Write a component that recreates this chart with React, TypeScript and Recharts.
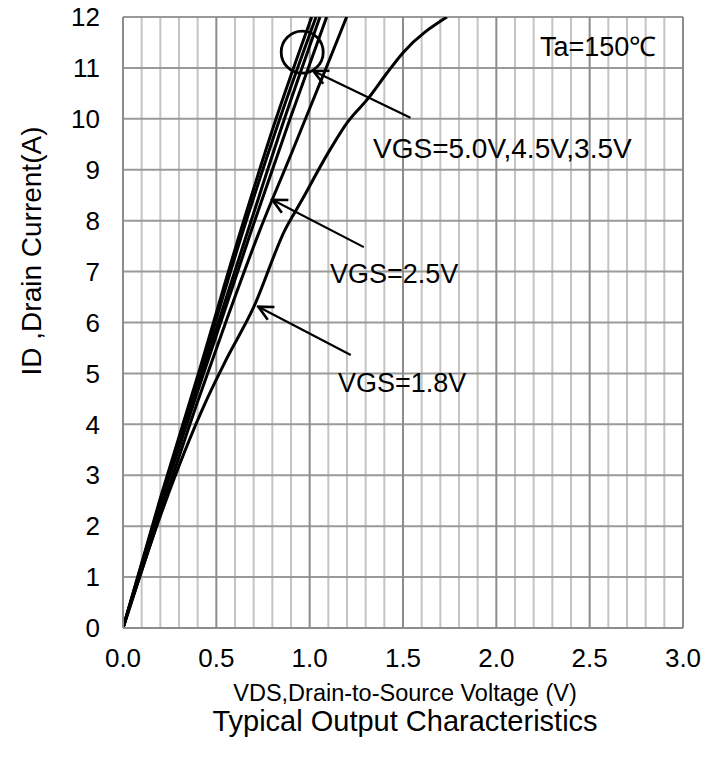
import React from 'react';
import {
  LineChart,
  Line,
  XAxis,
  YAxis,
  CartesianGrid,
  ReferenceLine,
  ReferenceDot,
  Customized,
} from 'recharts';

// Output curves, drain current (A) against drain-source voltage (V)
const vds50 = [0, 0.2, 0.4, 0.63, 0.82, 1.011];
const id50 = [0, 2.55, 4.95, 7.8, 10.0, 12];
const vds45 = [0, 0.2, 0.4, 0.645, 0.84, 1.034];
const id45 = [0, 2.5, 4.85, 7.82, 10.0, 12];
const vds35 = [0, 0.2, 0.4, 0.671, 0.865, 1.055];
const id35 = [0, 2.45, 4.75, 7.82, 10.0, 12];
const vds30 = [0, 0.2, 0.4, 0.689, 0.895, 1.091];
const id30 = [0, 2.4, 4.65, 7.82, 10.0, 12];
const vds25 = [0, 0.2, 0.4, 0.55, 0.734, 0.9, 1.105, 1.198];
const id25 = [0, 2.25, 4.45, 6.0, 7.82, 9.3, 11.15, 12];
const vds18 = [0, 0.2, 0.448, 0.55, 0.7, 0.868, 0.95, 1.11, 1.2, 1.32, 1.414, 1.5, 1.735];
const id18 = [0, 2.2, 4.48, 5.25, 6.3, 7.82, 8.35, 9.4, 9.92, 10.43, 10.9, 11.3, 12];

const X_MAX = 3;
const Y_MAX = 12;
const xTicks = [0, 0.5, 1.0, 1.5, 2.0, 2.5, 3.0];
const yTicks = [0, 1, 2, 3, 4, 5, 6, 7, 8, 9, 10, 11, 12];
// 0.1 V minor divisions between the labelled ticks
const minorX = Array.from({ length: 31 }, (_, i) => i / 10).filter(
  (v) => Math.abs(v * 2 - Math.round(v * 2)) > 1e-6
);

const zip = (xs: number[], ys: number[]) => xs.map((vds, i) => ({ vds, id: ys[i] }));

const curves = [
  { name: 'VGS=5.0V', data: zip(vds50, id50) },
  { name: 'VGS=4.5V', data: zip(vds45, id45) },
  { name: 'VGS=3.5V', data: zip(vds35, id35) },
  { name: 'VGS=3.0V', data: zip(vds30, id30) },
  { name: 'VGS=2.5V', data: zip(vds25, id25) },
  { name: 'VGS=1.8V', data: zip(vds18, id18) },
];

// arrows: tail -> head, in axis units
const arrows = [
  [{ x: 1.54, y: 10.02 }, { x: 1.02, y: 10.94 }],
  [{ x: 1.29, y: 7.48 }, { x: 0.8, y: 8.41 }],
  [{ x: 1.22, y: 5.36 }, { x: 0.725, y: 6.31 }],
];

const FONT = '"Liberation Sans", Arial, sans-serif';

// grid positions from axis values (the axes run linearly from 0)
const xGrid = (values: number[]) => ({ offset }: any) =>
  values.map((v) => offset.left + (v / X_MAX) * offset.width);
const yGrid = (values: number[]) => ({ offset }: any) =>
  values.map((v) => offset.top + (1 - v / Y_MAX) * offset.height);

const Arrow = (p: any) => (
  <line x1={p.x1} y1={p.y1} x2={p.x2} y2={p.y2} stroke="#000" strokeWidth={2.2} markerEnd="url(#arrowHead)" />
);

const Overlay = () => (
  <g fontFamily={FONT} fill="#000">
    <defs>
      <marker id="arrowHead" viewBox="0 0 20 20" refX="18" refY="10" markerWidth="18" markerHeight="18" markerUnits="userSpaceOnUse" orient="auto">
        <path d="M2,2 L18,10 L2,18" fill="none" stroke="#000" strokeWidth={3} />
      </marker>
    </defs>
    <text x={540} y={56} fontSize={27}>Ta=150℃</text>
    <text x={373} y={158} fontSize={28}>VGS=5.0V,4.5V,3.5V</text>
    <text x={330} y={283} fontSize={27}>VGS=2.5V</text>
    <text x={338} y={392} fontSize={27}>VGS=1.8V</text>
    <text x={405} y={701} fontSize={23.5} textAnchor="middle">VDS,Drain-to-Source Voltage (V)</text>
    <text x={405} y={731} fontSize={29} textAnchor="middle">Typical Output Characteristics</text>
    <text x={31} y={251} fontSize={28} textAnchor="middle" dominantBaseline="central" transform="rotate(-90 31 251)">
      ID ,Drain Current(A)
    </text>
  </g>
);

export default function App() {
  return (
    <div style={{ position: 'absolute', left: 0, top: 0, background: '#fff' }}>
      <LineChart width={716} height={763} margin={{ top: 17, right: 33, left: 0, bottom: 0 }}>
        <CartesianGrid horizontal={false} verticalCoordinatesGenerator={xGrid(minorX)} stroke="#c4c4c4" strokeWidth={2} />
        <CartesianGrid vertical={false} horizontalCoordinatesGenerator={yGrid(yTicks)} stroke="#9a9a9a" strokeWidth={2} />
        <CartesianGrid horizontal={false} verticalCoordinatesGenerator={xGrid(xTicks)} stroke="#8c8c8c" strokeWidth={2} />
        <XAxis
          dataKey="vds"
          type="number"
          domain={[0, X_MAX]}
          ticks={xTicks}
          tickFormatter={(v: number) => v.toFixed(1)}
          height={135}
          tickSize={0}
          tickMargin={21}
          axisLine={{ stroke: '#8c8c8c', strokeWidth: 2 }}
          tick={{ fill: '#000', fontSize: 26, fontFamily: FONT }}
          allowDataOverflow
        />
        <YAxis
          type="number"
          domain={[0, Y_MAX]}
          ticks={yTicks}
          width={123}
          tickSize={0}
          tickMargin={23}
          axisLine={{ stroke: '#8c8c8c', strokeWidth: 2 }}
          tick={{ fill: '#000', fontSize: 26, fontFamily: FONT }}
          allowDataOverflow
        />
        {curves.map((c) => (
          <Line
            key={c.name}
            name={c.name}
            data={c.data}
            dataKey="id"
            type="monotone"
            stroke="#000"
            strokeWidth={3}
            dot={false}
            isAnimationActive={false}
          />
        ))}
        <ReferenceDot x={0.96} y={11.31} r={21} fill="none" stroke="#000" strokeWidth={2.8} />
        {arrows.map((seg, i) => (
          <ReferenceLine key={`a${i}`} segment={seg} shape={Arrow} ifOverflow="visible" />
        ))}
        <Customized component={<Overlay />} />
      </LineChart>
    </div>
  );
}
